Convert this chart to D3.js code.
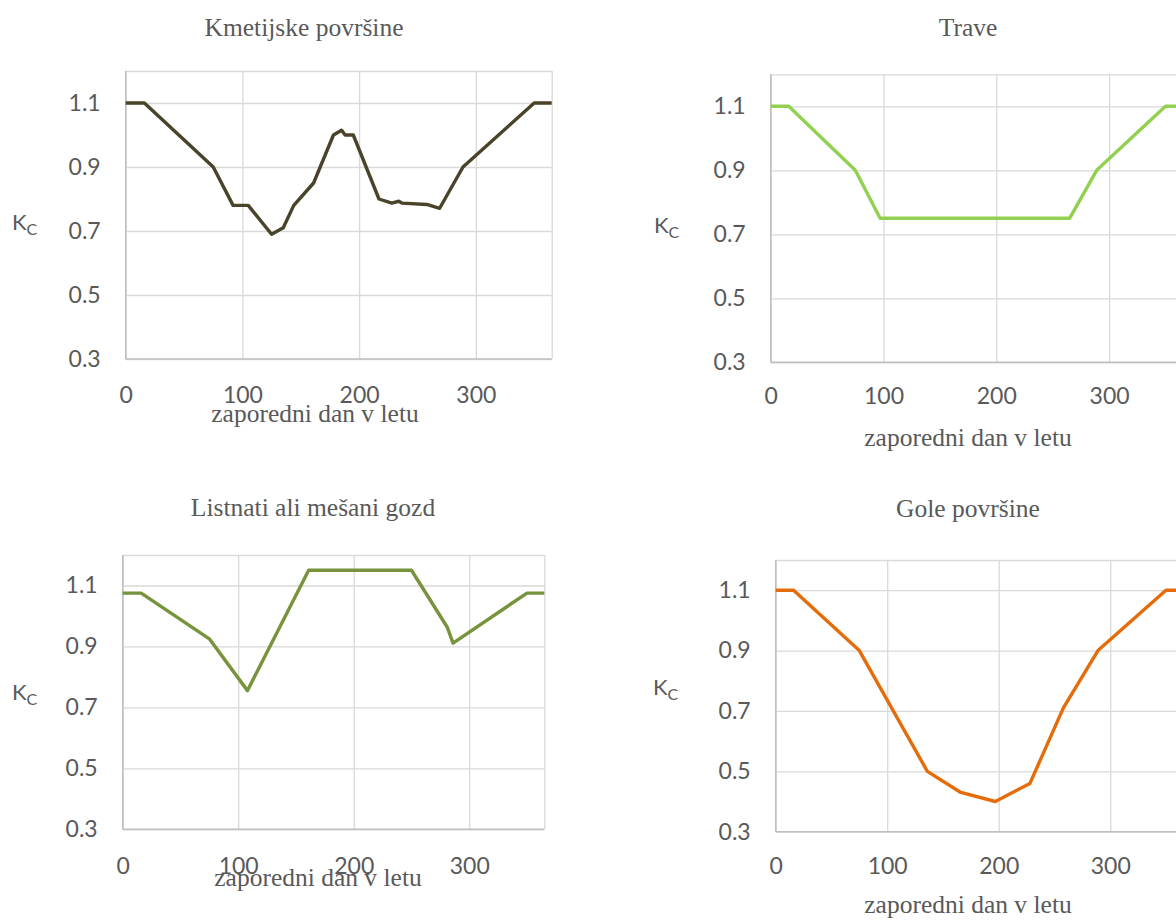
<!DOCTYPE html>
<html>
<head>
<meta charset="utf-8">
<script src="https://cdn.jsdelivr.net/npm/d3@7"></script>
<style>
  html, body { margin: 0; padding: 0; background: #ffffff; }
  svg { display: block; }
</style>
</head>
<body>
<svg id="chart" width="1176" height="921"></svg>
<script>
// ---------- data ----------
const panelTitles = ["Kmetijske površine", "Trave", "Listnati ali mešani gozd", "Gole površine"];
const xTitle = "zaporedni dan v letu";
const xTicks = [0, 100, 200, 300];
const yTicks = [0.3, 0.5, 0.7, 0.9, 1.1];

const kmetDays = [0, 16, 75, 92, 105, 125, 135, 144, 161, 178, 185, 188, 195, 217, 228, 234, 237, 258, 269, 289, 350, 365];
const kmetKc   = [1.1, 1.1, 0.9, 0.78, 0.78, 0.69, 0.71, 0.78, 0.85, 1.0, 1.015, 1.0, 1.0, 0.8, 0.787, 0.793, 0.787, 0.783, 0.771, 0.9, 1.1, 1.1];

const traveDays = [0, 16, 75, 97, 265, 289, 350, 365];
const traveKc   = [1.1, 1.1, 0.9, 0.75, 0.75, 0.9, 1.1, 1.1];

const gozdDays = [0, 16, 75, 108, 161, 250, 281, 286, 350, 365];
const gozdKc   = [1.075, 1.075, 0.925, 0.755, 1.15, 1.15, 0.963, 0.911, 1.075, 1.075];

const goleDays = [0, 16, 75, 136, 166, 197, 228, 258, 289, 350, 365];
const goleKc   = [1.1, 1.1, 0.9, 0.5, 0.43, 0.4, 0.46, 0.71, 0.9, 1.1, 1.1];

// ---------- layout / styles ----------
const panels = [
  { days: kmetDays,  kc: kmetKc,  color: "#494429", left: 125.7, right: 551.7,  top: 71,    bottom: 359,
    titleX: 304, titleY: 36, kcX: 12, kcY: 230, xlabY: 403, xtitleX: 315, xtitleY: 422 },
  { days: traveDays, kc: traveKc, color: "#92d050", left: 770.7, right: 1182.4, top: 74.3,  bottom: 362.3,
    titleX: 968, titleY: 36, kcX: 654, kcY: 233, xlabY: 404, xtitleX: 968, xtitleY: 446 },
  { days: gozdDays,  kc: gozdKc,  color: "#77933c", left: 122.7, right: 544.3,  top: 555,   bottom: 829.3,
    titleX: 313, titleY: 516, kcX: 12, kcY: 700, xlabY: 874, xtitleX: 318, xtitleY: 886 },
  { days: goleDays,  kc: goleKc,  color: "#e46c0a", left: 775.7, right: 1182.7, top: 560,   bottom: 831.7,
    titleX: 968, titleY: 517, kcX: 653, kcY: 695, xlabY: 874, xtitleX: 968, xtitleY: 913 }
];

const svg = d3.select("#chart");
const textGray = "#595959";
const gridColor = "#d9d9d9";
const axisColor = "#bfbfbf";

panels.forEach((p, i) => {
  const x = d3.scaleLinear().domain([0, 365]).range([p.left, p.right]);
  const y = d3.scaleLinear().domain([0.3, 1.2]).range([p.bottom, p.top]);
  const g = svg.append("g");

  // vertical gridlines
  g.append("g")
    .attr("transform", `translate(0,${p.top})`)
    .call(d3.axisBottom(x).tickValues(xTicks.concat([365])).tickSize(p.bottom - p.top).tickFormat(""))
    .call(a => a.select(".domain").remove())
    .call(a => a.selectAll("line").attr("stroke", gridColor).attr("stroke-width", 1.3));

  // horizontal gridlines
  g.append("g")
    .attr("transform", `translate(${p.left},0)`)
    .call(d3.axisRight(y).tickValues(yTicks.concat([1.2])).tickSize(p.right - p.left).tickFormat(""))
    .call(a => a.select(".domain").remove())
    .call(a => a.selectAll("line").attr("stroke", gridColor).attr("stroke-width", 1.3));

  // axis lines (left and bottom)
  g.append("line").attr("x1", p.left).attr("x2", p.left).attr("y1", p.top).attr("y2", p.bottom)
    .attr("stroke", axisColor).attr("stroke-width", 1.5);
  g.append("line").attr("x1", p.left).attr("x2", p.right).attr("y1", p.bottom).attr("y2", p.bottom)
    .attr("stroke", axisColor).attr("stroke-width", 1.5);

  // y tick labels
  g.append("g")
    .attr("transform", `translate(${p.left},0)`)
    .call(d3.axisLeft(y).tickValues(yTicks).tickSize(0).tickPadding(25).tickFormat(d3.format(".1f")))
    .call(a => a.select(".domain").remove())
    .call(a => a.selectAll("text").attr("fill", textGray).style("font-family", "Lato, 'Open Sans', sans-serif").style("font-size", "23px"));

  // x tick labels
  g.append("g")
    .attr("transform", `translate(0,${p.bottom})`)
    .call(d3.axisBottom(x).tickValues(xTicks).tickSize(0).tickPadding(0).tickFormat(d3.format("d")))
    .call(a => a.select(".domain").remove())
    .call(a => a.selectAll("text").attr("dy", null).attr("y", p.xlabY - p.bottom)
      .attr("fill", textGray).style("font-family", "Lato, 'Open Sans', sans-serif").style("font-size", "23px"));

  // line
  const pts = p.days.map((d, k) => [d, p.kc[k]]);
  g.append("path")
    .datum(pts)
    .attr("fill", "none")
    .attr("stroke", p.color)
    .attr("stroke-width", 3.4)
    .attr("stroke-linejoin", "round")
    .attr("d", d3.line().x(d => x(d[0])).y(d => y(d[1])));

  // title
  g.append("text").attr("x", p.titleX).attr("y", p.titleY).attr("text-anchor", "middle")
    .attr("fill", textGray).style("font-family", "'Liberation Serif', 'Times New Roman', serif").style("font-size", "25.5px")
    .text(panelTitles[i]);

  // x axis title
  g.append("text").attr("x", p.xtitleX).attr("y", p.xtitleY).attr("text-anchor", "middle")
    .attr("fill", textGray).style("font-family", "'Liberation Serif', 'Times New Roman', serif").style("font-size", "25.5px")
    .text(xTitle);

  // Kc label
  const kc = g.append("text").attr("x", p.kcX).attr("y", p.kcY)
    .attr("fill", textGray).style("font-family", "Lato, 'Open Sans', sans-serif").style("font-size", "22px");
  kc.append("tspan").text("K");
  kc.append("tspan").attr("dy", 5).style("font-size", "16px").text("C");
});
</script>
</body>
</html>
